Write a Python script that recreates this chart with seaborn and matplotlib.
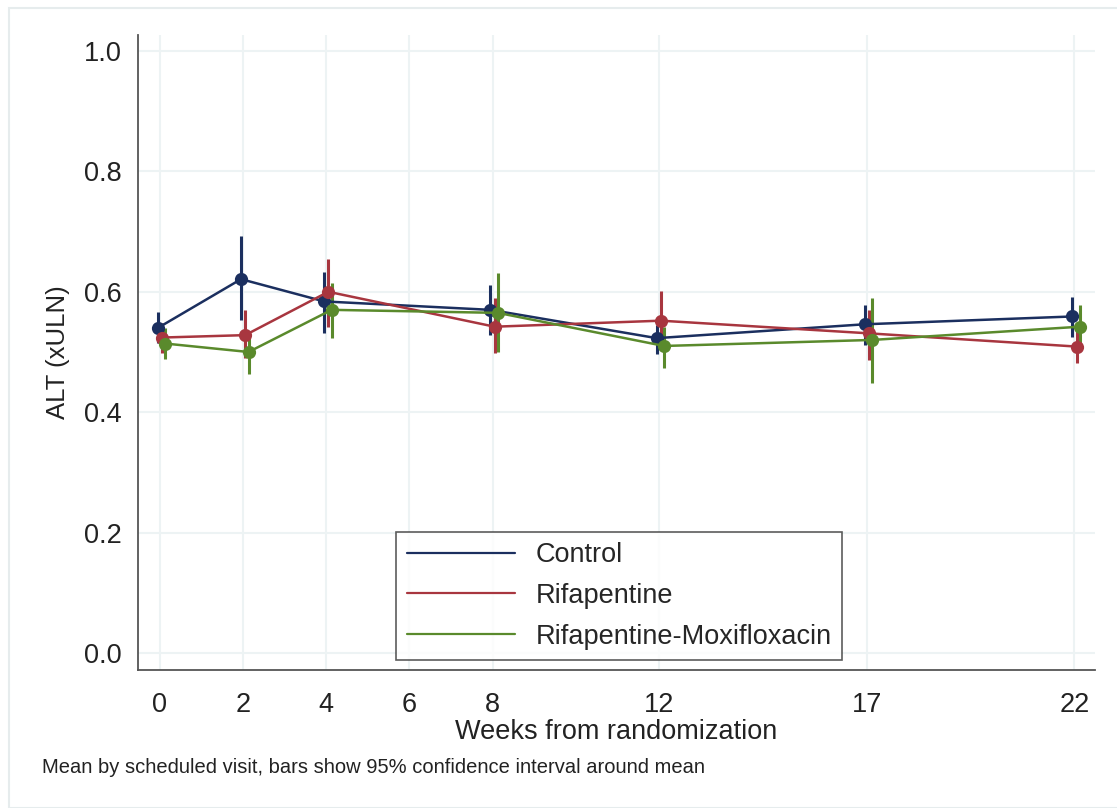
import numpy as np
import pandas as pd
import matplotlib
import matplotlib.pyplot as plt
import seaborn as sns
from matplotlib.lines import Line2D
from matplotlib.patches import Rectangle

matplotlib.use('Agg')

# Данные: среднее и 95% ДИ по визитам
weeks = [0, 2, 4, 8, 12, 17, 22]
groups = ["Control", "Rifapentine", "Rifapentine-Moxifloxacin"]

control_mean = [0.540, 0.621, 0.584, 0.570, 0.523, 0.546, 0.559]
control_lo = [0.515, 0.553, 0.531, 0.528, 0.497, 0.512, 0.525]
control_hi = [0.567, 0.692, 0.633, 0.611, 0.545, 0.578, 0.592]

rif_mean = [0.524, 0.528, 0.600, 0.542, 0.552, 0.531, 0.509]
rif_lo = [0.498, 0.490, 0.542, 0.498, 0.505, 0.486, 0.481]
rif_hi = [0.548, 0.569, 0.654, 0.590, 0.602, 0.570, 0.540]

moxi_mean = [0.514, 0.500, 0.570, 0.565, 0.510, 0.520, 0.542]
moxi_lo = [0.488, 0.463, 0.524, 0.500, 0.473, 0.449, 0.510]
moxi_hi = [0.540, 0.530, 0.614, 0.632, 0.542, 0.589, 0.578]

x_ticks = [0, 2, 4, 6, 8, 12, 17, 22]
y_ticks = [0.0, 0.2, 0.4, 0.6, 0.8, 1.0]

colors = {"Control": "#1b2f5f", "Rifapentine": "#a8363f", "Rifapentine-Moxifloxacin": "#5a8a2c"}
offsets = {"Control": -0.05, "Rifapentine": 0.05, "Rifapentine-Moxifloxacin": 0.13}

# Собираем длинную таблицу
series = {
    "Control": (control_mean, control_lo, control_hi),
    "Rifapentine": (rif_mean, rif_lo, rif_hi),
    "Rifapentine-Moxifloxacin": (moxi_mean, moxi_lo, moxi_hi),
}
rows = []
for g, (m, lo, hi) in series.items():
    for w, mv, lv, hv in zip(weeks, m, lo, hi):
        rows.append({"group": g, "week": w, "xpos": w + offsets[g], "mean": mv, "lo": lv, "hi": hv})
df = pd.DataFrame(rows)

sns.set_style("white")
plt.rcParams['font.family'] = ['Liberation Sans', 'DejaVu Sans']

fs = 19.5

fig = plt.figure(figsize=(11.17, 8.08), dpi=100)
ax = fig.add_axes([0.1235, 0.171, 0.857, 0.786])

# Сетка
for xt in x_ticks:
    ax.axvline(xt, color="#edf3f4", lw=1.5, zorder=0)
for yt in y_ticks:
    ax.axhline(yt, color="#edf3f4", lw=1.5, zorder=0)

# Доверительные интервалы
for g in groups:
    sub = df[df["group"] == g]
    ax.vlines(sub["xpos"], sub["lo"], sub["hi"], color=colors[g], lw=2.2, zorder=2)

# Линии и точки
sns.lineplot(data=df, x="xpos", y="mean", hue="group", hue_order=groups, palette=colors,
             marker="o", markersize=9.5, markeredgewidth=0, lw=1.8, legend=False, ax=ax,
             zorder=3, estimator=None, sort=True)

ax.set_xlim(-0.53, 22.5)
ax.set_ylim(-0.028, 1.027)
ax.set_xticks(x_ticks)
ax.set_yticks(y_ticks)
ax.set_yticklabels([f"{v:.1f}" for v in y_ticks])
ax.tick_params(axis="both", direction="out", length=8, width=1.3, color="#555555",
               labelsize=fs, labelcolor="#222222", pad=4)
ax.tick_params(axis="x", pad=8)
for side in ["top", "right"]:
    ax.spines[side].set_visible(False)
for side in ["left", "bottom"]:
    ax.spines[side].set_color("#555555")
    ax.spines[side].set_linewidth(1.3)

ax.set_xlabel("Weeks from randomization", fontsize=fs, color="#222222", labelpad=1)
ax.set_ylabel("ALT (xULN)", fontsize=18.5, color="#222222", labelpad=10)

# Легенда
handles = [Line2D([0], [0], color=colors[g], lw=1.6) for g in groups]
leg = ax.legend(handles, groups, loc="lower center", bbox_to_anchor=(0.5026, -0.006),
                fontsize=fs, frameon=True, fancybox=False, handlelength=4.0,
                borderpad=0.38, labelspacing=0.55, handletextpad=0.75)
leg.get_frame().set_edgecolor("#333333")
leg.get_frame().set_linewidth(1.2)

fig.text(0.038, 0.050, "Mean by scheduled visit, bars show 95% confidence interval around mean",
         fontsize=14.5, color="#222222", va="center")

fig.patches.append(Rectangle((0.008, 0.0), 1.2, 0.99, transform=fig.transFigure,
                             fill=False, edgecolor="#e6eced", lw=1.5, zorder=-1))

fig.savefig("out.png", dpi=100)
